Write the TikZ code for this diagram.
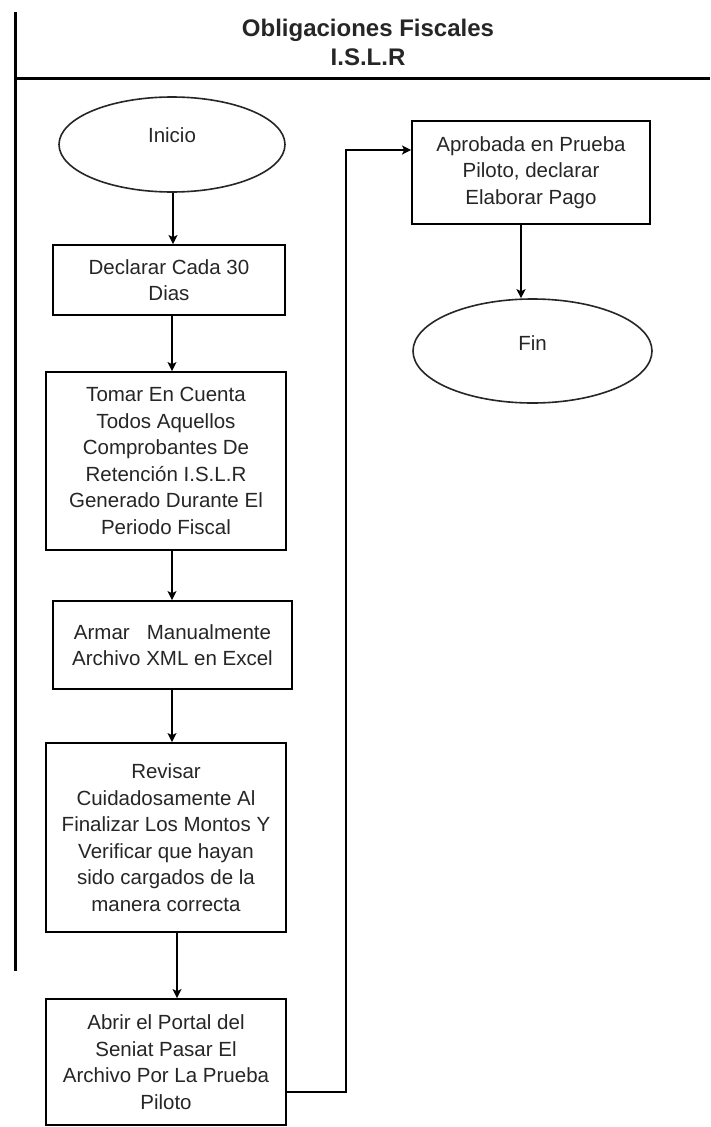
\documentclass[tikz,border=0pt]{standalone}
\usepackage{fontspec}
\setmainfont{Liberation Sans}
\usetikzlibrary{shapes.geometric,arrows.meta}

\tikzset{
  lane/.style={line width=3pt, draw=black},
  stepbox/.style={draw=black, line width=1.8pt, rectangle, inner sep=0pt,
    align=center, text=black!85,
    font=\fontsize{20.5}{26.5}\selectfont},
  terminal/.style={draw=black!85, line width=1.6pt, ellipse, inner sep=0pt,
    text=black!85, font=\fontsize{20.5}{26.5}\selectfont},
  arr/.style={line width=1.6pt, draw=black,
    -{Stealth[length=9pt,width=9pt,inset=2pt]}},
  flow/.style={line width=1.8pt, draw=black, -{Stealth[length=9pt,width=9pt,inset=2pt]}}
}

\begin{document}
\begin{tikzpicture}[x=1pt, y=-1pt]
  \useasboundingbox (0,0) rectangle (710,1127);
  \fill[white] (0,0) rectangle (710,1127);

  % swimlane frame
  \draw[lane] (15,12) -- (15,971);
  \draw[lane] (15,78) -- (710,78);
  \node[font=\bfseries\fontsize{24}{29}\selectfont, text=black!85, align=center]
    (title) at (368,42) {Obligaciones Fiscales\\I.S.L.R};

  % left column
  \node[terminal, minimum width=226pt, minimum height=95pt]
    (inicio) at (172,144.5) {\raisebox{18pt}{Inicio}};
  \node[stepbox, minimum width=232pt, minimum height=70pt]
    (decl) at (169,280) {Declarar Cada 30\\Dias};
  \node[stepbox, minimum width=240pt, minimum height=178pt]
    (tomar) at (166,461) {Tomar En Cuenta\\Todos Aquellos\\Comprobantes De\\Retención I.S.L.R\\Generado Durante El\\Periodo Fiscal};
  \node[stepbox, minimum width=239pt, minimum height=88pt]
    (armar) at (172.5,645) {Armar\ \ \ Manualmente\\Archivo XML en Excel};
  \node[stepbox, minimum width=240pt, minimum height=189pt]
    (revisar) at (166,837.5) {Revisar\\Cuidadosamente Al\\Finalizar Los Montos Y\\Verificar que hayan\\sido cargados de la\\manera correcta};
  \node[stepbox, minimum width=240pt, minimum height=126pt]
    (abrir) at (166,1062) {Abrir el Portal del\\Seniat Pasar El\\Archivo Por La Prueba\\Piloto};

  % right column
  \node[stepbox, minimum width=238pt, minimum height=103pt]
    (aprob) at (531,172.5) {Aprobada en Prueba\\Piloto, declarar\\Elaborar Pago};
  \node[terminal, minimum width=239pt, minimum height=104pt]
    (fin) at (532.5,351) {\raisebox{16pt}{Fin}};

  % connectors
  \draw[arr] ([xshift=1pt]inicio.south) -- ([xshift=1pt]inicio.south |- decl.north);
  \draw[arr] (decl.south -| inicio) -- (tomar.north -| inicio);
  \draw[arr] (tomar.south -| inicio) -- (armar.north -| inicio);
  \draw[arr] (armar.south -| inicio) -- (revisar.north -| inicio);
  \draw[arr] ([xshift=11pt]revisar.south) -- ([xshift=11pt]abrir.north);
  \draw[flow] ([yshift=-30pt]abrir.east) -- ++(59pt,0) |- ([yshift=22.5pt]aprob.west);
  \draw[arr] ([xshift=-10pt]aprob.south) -- ([xshift=-10pt]aprob.south |- fin.north);
\end{tikzpicture}
\end{document}
